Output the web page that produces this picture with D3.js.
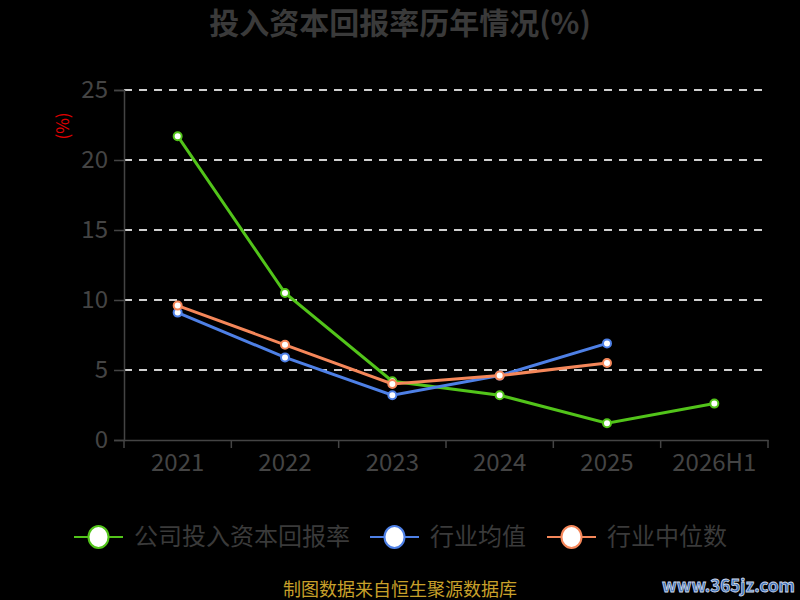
<!DOCTYPE html>
<html>
<head>
<meta charset="utf-8">
<script src="https://cdn.jsdelivr.net/npm/d3@7"></script>
<style>
  body { margin: 0; background: #000; }
  text { font-family: "Noto Sans CJK SC", "Noto Sans", sans-serif; }
</style>
</head>
<body>
<script>
var w = 800;
var h = 600;

// data
var years = ["2021", "2022", "2023", "2024", "2025", "2026H1"];
var company = [21.7, 10.5, 4.2, 3.2, 1.2, 2.6];
var industryAvg = [9.1, 5.9, 3.2, 4.6, 6.9, null];
var industryMedian = [9.6, 6.8, 4.0, 4.6, 5.5, null];
var seriesNames = ["公司投入资本回报率", "行业均值", "行业中位数"];
var yTicks = [0, 5, 10, 15, 20, 25];

var colors = ["#52c41a", "#4e80e6", "#f5875a"];

// plot area
var plotL = 124, plotR = 768, plotT = 90, plotB = 440;

var svg = d3.select("body").append("svg")
    .attr("width", w)
    .attr("height", h);

svg.append("rect").attr("width", w).attr("height", h).attr("fill", "#000");

// title
svg.append("text")
    .attr("x", 400).attr("y", 34)
    .attr("text-anchor", "middle")
    .attr("font-size", 30).attr("font-weight", "bold")
    .attr("fill", "#3a3a3a")
    .text("投入资本回报率历年情况(%)");

var x = d3.scaleBand().domain(years).range([plotL, plotR]);
var y = d3.scaleLinear().domain([0, 25]).range([plotB, plotT]);

// grid lines
svg.append("g").selectAll("line")
    .data(yTicks.filter(function(d){ return d > 0; }))
    .enter().append("line")
    .attr("x1", plotL).attr("x2", plotR)
    .attr("y1", function(d){ return y(d); })
    .attr("y2", function(d){ return y(d); })
    .attr("stroke", "#d0d0d0")
    .attr("stroke-width", 2)
    .attr("stroke-dasharray", "8,7");

// y axis
var yAxis = svg.append("g")
    .attr("transform", "translate(" + plotL + ",0)")
    .call(d3.axisLeft(y).tickValues(yTicks).tickSize(10).tickPadding(6));
yAxis.select(".domain").attr("stroke", "#444").attr("stroke-width", 1.5);
yAxis.selectAll(".tick line").attr("stroke", "#444").attr("stroke-width", 1.5);
yAxis.selectAll(".tick text").attr("fill", "#444").attr("font-size", 24)
    .attr("font-family", "Noto Sans CJK SC");

// x axis
var xAxis = svg.append("g")
    .attr("transform", "translate(0," + plotB + ")")
    .call(d3.axisBottom(x).tickSize(0).tickPadding(14));
xAxis.select(".domain").attr("stroke", "#444").attr("stroke-width", 1.5);
xAxis.selectAll(".tick text").attr("fill", "#444").attr("font-size", 24)
    .attr("font-family", "Noto Sans CJK SC");
// ticks on band boundaries
xAxis.append("g").selectAll("line")
    .data(years.map(function(d){ return x(d); }).concat([plotR]))
    .enter().append("line")
    .attr("x1", function(d){ return d; }).attr("x2", function(d){ return d; })
    .attr("y1", 0).attr("y2", 8)
    .attr("stroke", "#444").attr("stroke-width", 1.5);

// unit label
svg.append("text")
    .attr("transform", "translate(69,126) rotate(-90)")
    .attr("text-anchor", "middle")
    .attr("font-size", 17)
    .attr("fill", "#e00000")
    .text("(%)");

// lines
var allSeries = [company, industryAvg, industryMedian];
var line = d3.line()
    .defined(function(d){ return d != null; })
    .x(function(d, i){ return x(years[i]) + x.bandwidth() / 2; })
    .y(function(d){ return y(d); });

allSeries.forEach(function(vals, s){
    var g = svg.append("g");
    g.append("path")
        .attr("d", line(vals))
        .attr("fill", "none")
        .attr("stroke", colors[s])
        .attr("stroke-width", 3);
    g.selectAll("circle")
        .data(vals.map(function(v, i){ return {v: v, i: i}; }).filter(function(d){ return d.v != null; }))
        .enter().append("circle")
        .attr("cx", function(d){ return x(years[d.i]) + x.bandwidth() / 2; })
        .attr("cy", function(d){ return y(d.v); })
        .attr("r", 4)
        .attr("fill", "#fff")
        .attr("stroke", colors[s])
        .attr("stroke-width", 2);
});

// legend
var legendX = [74, 370, 547];
var legend = svg.append("g");
seriesNames.forEach(function(name, s){
    var lx = legendX[s];
    legend.append("line")
        .attr("x1", lx).attr("x2", lx + 49)
        .attr("y1", 537).attr("y2", 537)
        .attr("stroke", colors[s]).attr("stroke-width", 2);
    legend.append("ellipse")
        .attr("cx", lx + 24.5).attr("cy", 537)
        .attr("rx", 10).attr("ry", 11)
        .attr("fill", "#fff")
        .attr("stroke", colors[s]).attr("stroke-width", 2);
    legend.append("text")
        .attr("x", lx + 60).attr("y", 545)
        .attr("font-size", 24)
        .attr("fill", "#3a3a3a")
        .text(name);
});

// source
svg.append("text")
    .attr("x", 400).attr("y", 596)
    .attr("text-anchor", "middle")
    .attr("font-size", 18)
    .attr("fill", "#c8a02a")
    .text("制图数据来自恒生聚源数据库");

// watermark
svg.append("text")
    .attr("x", 795).attr("y", 592)
    .attr("text-anchor", "end")
    .attr("font-size", 17)
    .attr("font-weight", "bold")
    .attr("fill", "#3a6fb8")
    .attr("stroke", "#cfd8e8")
    .attr("stroke-width", 0.8)
    .attr("font-family", "DejaVu Sans")
    .text("www.365jz.com");
</script>
</body>
</html>
